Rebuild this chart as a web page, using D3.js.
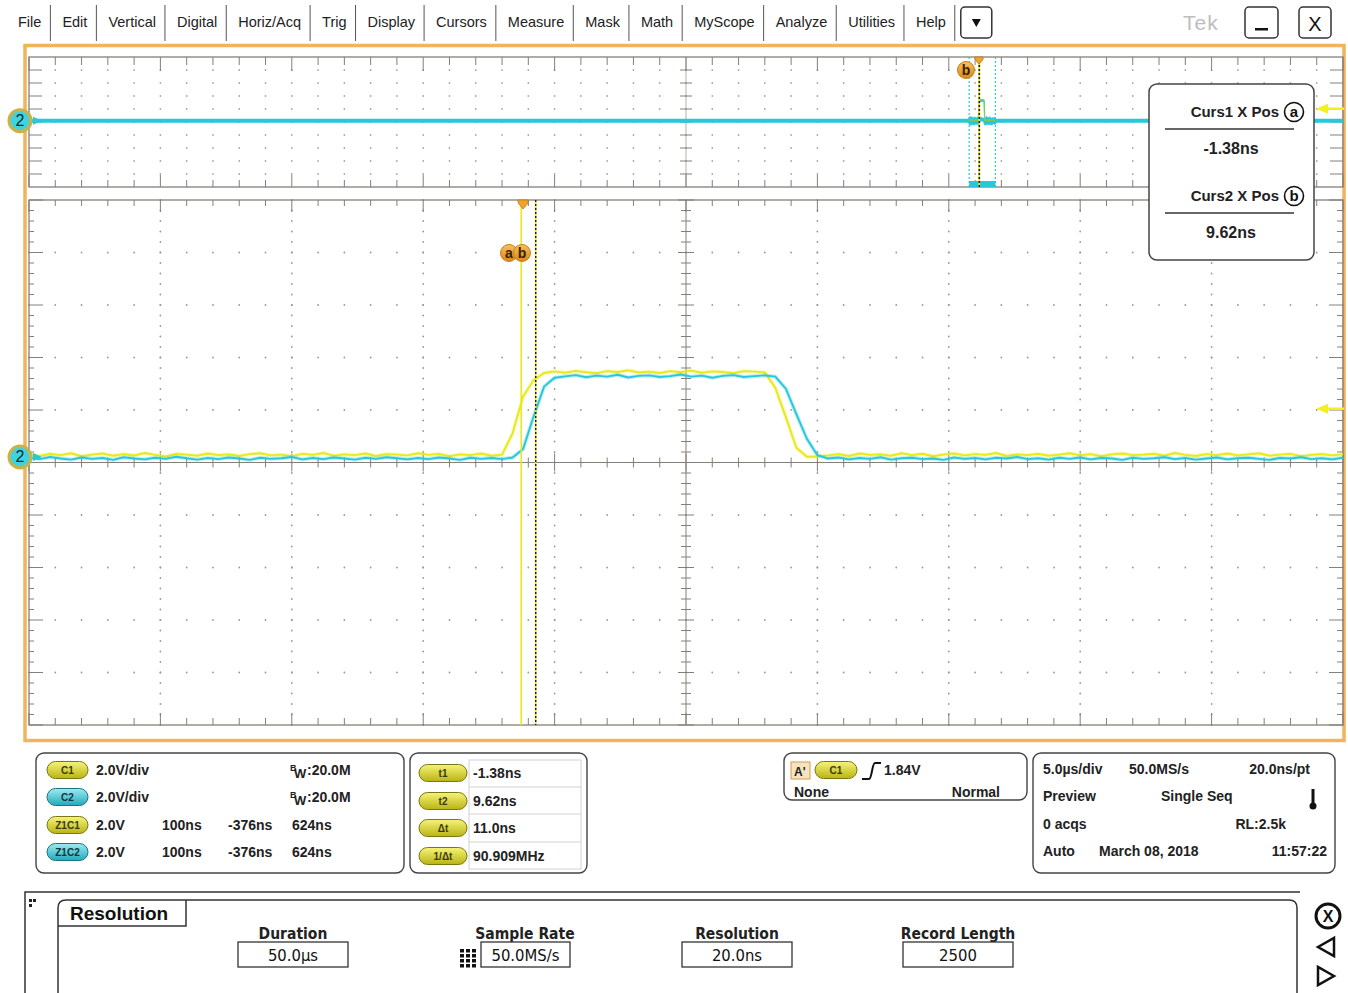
<!DOCTYPE html>
<html><head><meta charset="utf-8">
<script src="https://cdn.jsdelivr.net/npm/d3@7"></script>
<style>
html,body{margin:0;padding:0;background:#fff;}
svg{display:block;font-family:"Liberation Sans",Arial,sans-serif;}
</style></head><body>
<svg id="scope" width="1348" height="993"></svg>
<script>
// ---------- acquisition data ----------
// zoomed record: first sample time and sample spacing (ns)
const SAMPLE_START_NS = -376;
const SAMPLE_STEP_NS = 8;
const ZOOM_NS_PER_DIV = 100;
const RECORD_START_NS = -36150;
const RECORD_NS_PER_DIV = 5000;
const VOLTS_PER_DIV = 2.0;
const TRIGGER_LEVEL_V = 1.84;
const CURSOR_TIMES_NS = [-1.38, 9.62];

// Channel 1 (yellow), volts per sample
const ch1Volts = [
  0.10, 0.04, 0.12, 0.07, 0.14, 0.03, 0.09, 0.13, 0.05, 0.11,
  0.06, 0.15, 0.08, 0.02, 0.12, 0.09, 0.05, 0.13, 0.07, 0.10,
  0.04, 0.11, 0.14, 0.06, 0.09, 0.03, 0.12, 0.08, 0.15, 0.05,
  0.10, 0.07, 0.13, 0.04, 0.11, 0.09, 0.06, 0.14, 0.08, 0.12,
  0.03, 0.10, 0.07, 0.13, 0.05, 0.09,
  0.90, 2.30, 2.93, 3.20,
  3.26, 3.21, 3.28, 3.23, 3.19, 3.27, 3.24, 3.30, 3.22, 3.25,
  3.20, 3.27, 3.23, 3.29, 3.21, 3.26, 3.24, 3.19, 3.27, 3.25, 3.22,
  2.63, 1.52, 0.35, 0.01,
  0.02, 0.06, 0.11, 0.04, 0.13, 0.08, 0.10, 0.05, 0.14, 0.07,
  0.12, 0.03, 0.09, 0.13, 0.06, 0.11, 0.08, 0.15, 0.04, 0.10,
  0.07, 0.12, 0.05, 0.09, 0.14, 0.06, 0.11, 0.03, 0.10, 0.13,
  0.07, 0.09, 0.12, 0.05, 0.15, 0.08, 0.04, 0.11, 0.07, 0.13,
  0.06, 0.10, 0.14, 0.05, 0.09, 0.12, 0.03, 0.08, 0.11, 0.06, 0.10
];

// Channel 2 (cyan), volts per sample
const ch2Volts = [
  -0.03, -0.08, 0.00, -0.06, -0.10, -0.02, -0.07, -0.04, -0.11, -0.01,
  -0.06, -0.09, -0.03, -0.07, 0.01, -0.05, -0.10, -0.04, -0.08, -0.02,
  -0.06, -0.11, -0.03, -0.07, -0.05, 0.00, -0.09, -0.04, -0.08, -0.02,
  -0.06, -0.10, -0.03, -0.07, -0.01, -0.05, -0.09, -0.04, -0.08, -0.02,
  -0.06, -0.11, -0.03, -0.07, -0.04, -0.08, -0.02,
  0.30, 1.54, 2.68, 3.02,
  3.07, 3.12, 3.04, 3.10, 3.06, 3.13, 3.03, 3.09, 3.11, 3.05,
  3.08, 3.14, 3.06, 3.10, 3.02, 3.09, 3.12, 3.05, 3.08, 3.11, 3.06,
  2.60, 1.63, 0.69, 0.07,
  -0.06, -0.02, -0.09, -0.04, -0.07, -0.01, -0.10, -0.05, -0.03, -0.08,
  -0.06, -0.11, -0.02, -0.07, -0.04, -0.09, -0.03, -0.06, 0.00, -0.08,
  -0.05, -0.10, -0.03, -0.07, -0.02, -0.09, -0.04, -0.06, -0.11, -0.03,
  -0.07, -0.05, -0.01, -0.08, -0.04, -0.10, -0.06, -0.02, -0.09, -0.05,
  -0.03, -0.07, -0.11, -0.04, -0.06, -0.01, -0.08, -0.05, -0.09, -0.03
];

// ---------- text content ----------
const menuItems = ["File","Edit","Vertical","Digital","Horiz/Acq","Trig","Display","Cursors","Measure","Mask","Math","MyScope","Analyze","Utilities","Help"];
const channelRows = [
  {badge:"C1", kind:"y", scale:"2.0V/div", bw:"20.0M"},
  {badge:"C2", kind:"c", scale:"2.0V/div", bw:"20.0M"}
];
const zoomRows = [
  {badge:"Z1C1", kind:"y", cols:["2.0V","100ns","-376ns","624ns"]},
  {badge:"Z1C2", kind:"c", cols:["2.0V","100ns","-376ns","624ns"]}
];
const cursorReadouts = [["t1","-1.38ns"],["t2","9.62ns"],["\u0394t","11.0ns"],["1/\u0394t","90.909MHz"]];
const cursorBoxRows = [["Curs1 X Pos","a","-1.38ns"],["Curs2 X Pos","b","9.62ns"]];
const triggerText = {source:"C1", level:"1.84V", coupling:"None", mode:"Normal"};
const horizRows = [
  ["5.0\u00b5s/div","50.0MS/s","20.0ns/pt"],
  ["Preview","Single Seq",""],
  ["0 acqs","","RL:2.5k"],
  ["Auto","March 08, 2018","11:57:22"]
];
const resolutionFields = [["Duration","50.0\u00b5s"],["Sample Rate","50.0MS/s"],["Resolution","20.0ns"],["Record Length","2500"]];

// ---------- setup ----------
const svg = d3.select("#scope");
const GRID = "#857f78";
const YEL = "#e9e81a";
const CYA = "#27c7dc";
const ORANGE = "#f0a52a";

const defs = svg.append("defs");
function grad(id, top, bot){
  const g = defs.append("linearGradient").attr("id", id).attr("x1",0).attr("y1",0).attr("x2",0).attr("y2",1);
  g.append("stop").attr("offset","0%").attr("stop-color", top);
  g.append("stop").attr("offset","100%").attr("stop-color", bot);
}
grad("pillY", "#f6f47a", "#b9b412");
grad("pillC", "#9cecf2", "#22a9bd");
grad("badgeO", "#f8c25a", "#d9861a");

// ---------- menu bar ----------
const menu = svg.append("g").attr("font-size", 14.5).attr("fill", "#222");
let mx = 18;
menuItems.forEach(label => {
  const t = menu.append("text").attr("x", mx).attr("y", 27).text(label);
  const w = t.node().getComputedTextLength();
  const sx = mx + w + 9;
  menu.append("line").attr("x1", sx).attr("x2", sx).attr("y1", 5).attr("y2", 41).attr("stroke", "#555");
  mx = sx + 12;
});
const ddx = mx - 6;
menu.append("rect").attr("x", ddx).attr("y", 7).attr("width", 31).attr("height", 31).attr("rx", 4)
  .attr("fill", "#fff").attr("stroke", "#333").attr("stroke-width", 1.5);
menu.append("path").attr("d", `M${ddx+11},${19} L${ddx+20},${19} L${ddx+15.5},${27} Z`).attr("fill", "#111");
svg.append("text").attr("x", 1183).attr("y", 30).attr("font-size", 21).attr("fill", "#bdbdbd").attr("letter-spacing", 1).text("Tek");
svg.append("rect").attr("x", 1245).attr("y", 7).attr("width", 33).attr("height", 31).attr("rx", 4)
  .attr("fill", "#fff").attr("stroke", "#333").attr("stroke-width", 1.5);
svg.append("rect").attr("x", 1255).attr("y", 28).attr("width", 13).attr("height", 2.5).attr("fill", "#111");
svg.append("rect").attr("x", 1299).attr("y", 7).attr("width", 32).attr("height", 31).attr("rx", 4)
  .attr("fill", "#fff").attr("stroke", "#333").attr("stroke-width", 1.5);
svg.append("text").attr("x", 1315).attr("y", 31).attr("text-anchor", "middle").attr("font-size", 20).attr("fill", "#111").text("X");

// ---------- display frame ----------
svg.append("rect").attr("x", 25).attr("y", 45.5).attr("width", 1319).attr("height", 695)
  .attr("fill", "none").attr("stroke", "#f2b45a").attr("stroke-width", 3.5);

// ---------- scales ----------
const OV = {x0:29, x1:1343, y0:57, y1:187};
const MAIN = {x0:29, x1:1343, y0:200, y1:725};
const CH_OFFSET_DIV = 0.105;
const xMain = d3.scaleLinear().domain([SAMPLE_START_NS, SAMPLE_START_NS + 10*ZOOM_NS_PER_DIV]).range([MAIN.x0, MAIN.x1]);
const xOv = d3.scaleLinear().domain([RECORD_START_NS, RECORD_START_NS + 10*RECORD_NS_PER_DIV]).range([OV.x0, OV.x1]);
const divMain = d3.scaleLinear().domain([-5, 5]).range([MAIN.y1, MAIN.y0]);
const divOv = d3.scaleLinear().domain([-5, 5]).range([OV.y1, OV.y0]);
const yMain = v => divMain(v / VOLTS_PER_DIV + CH_OFFSET_DIV);
const yOv = v => divOv(v / VOLTS_PER_DIV + CH_OFFSET_DIV);

const samples1 = ch1Volts.map((v, i) => ({t: SAMPLE_START_NS + i*SAMPLE_STEP_NS, v}));
const samples2 = ch2Volts.map((v, i) => ({t: SAMPLE_START_NS + i*SAMPLE_STEP_NS, v}));

// ---------- graticule: overview ----------
function graticuleOverview(){
  const g = svg.append("g");
  const { x0, x1, y0, y1 } = OV;
  const minorX = d3.range(0, 51).map(i => x0 + i*(x1-x0)/50);
  const divY = d3.range(0, 11).map(j => divOv(j-5));
  minorX.slice(1, -1).forEach(x => divY.slice(1, -1).forEach(y => {
    g.append("circle").attr("cx", x).attr("cy", y).attr("r", 0.9).attr("fill", "#a8a8a8");
  }));
  g.append("line").attr("x1", 686).attr("x2", 686).attr("y1", y0).attr("y2", y1).attr("stroke", "#b5b0aa");
  divY.slice(1, -1).forEach(y => {
    g.append("line").attr("x1", 680).attr("x2", 692).attr("y1", y).attr("y2", y).attr("stroke", GRID);
    g.append("line").attr("x1", x0).attr("x2", x0+13).attr("y1", y).attr("y2", y).attr("stroke", GRID);
    g.append("line").attr("x1", x1-13).attr("x2", x1).attr("y1", y).attr("y2", y).attr("stroke", GRID);
  });
  minorX.forEach((x, i) => {
    const major = i % 5 === 0;
    g.append("line").attr("x1", x).attr("x2", x).attr("y1", y0).attr("y2", y0 + (major ? 14 : 8)).attr("stroke", GRID);
    g.append("line").attr("x1", x).attr("x2", x).attr("y1", y1).attr("y2", y1 - (major ? 12 : 7)).attr("stroke", GRID);
  });
  g.append("rect").attr("x", x0).attr("y", y0).attr("width", x1-x0).attr("height", y1-y0)
    .attr("fill", "none").attr("stroke", GRID).attr("stroke-width", 1.3);
}

// ---------- graticule: zoom window ----------
function graticuleMain(){
  const g = svg.append("g");
  const { x0, x1, y0, y1 } = MAIN;
  const minorX = d3.range(0, 51).map(i => x0 + i*(x1-x0)/50);
  const minorY = d3.range(0, 51).map(j => divMain(j/5 - 5));
  const yc = divMain(0), xc = (x0 + x1)/2;
  minorX.forEach((x, i) => {
    if (i % 5 !== 0 || i === 0 || i === 50 || i === 25) return;
    minorY.forEach(y => g.append("circle").attr("cx", x).attr("cy", y).attr("r", 0.9).attr("fill", "#9a9a9a"));
  });
  minorY.forEach((y, j) => {
    if (j % 5 !== 0 || j === 0 || j === 50 || j === 25) return;
    minorX.forEach(x => g.append("circle").attr("cx", x).attr("cy", y).attr("r", 0.9).attr("fill", "#9a9a9a"));
  });
  g.append("line").attr("x1", xc).attr("x2", xc).attr("y1", y0).attr("y2", y1).attr("stroke", GRID);
  g.append("line").attr("x1", x0).attr("x2", x1).attr("y1", yc).attr("y2", yc).attr("stroke", GRID);
  minorY.forEach((y, j) => {
    const major = j % 5 === 0;
    const half = major ? 8 : 5;
    g.append("line").attr("x1", xc-half).attr("x2", xc+half).attr("y1", y).attr("y2", y).attr("stroke", GRID);
    g.append("line").attr("x1", x0).attr("x2", x0 + (major ? 14 : 5)).attr("y1", y).attr("y2", y).attr("stroke", GRID);
    g.append("line").attr("x1", x1 - (major ? 14 : 6)).attr("x2", x1).attr("y1", y).attr("y2", y).attr("stroke", GRID);
  });
  minorX.forEach((x, i) => {
    const major = i % 5 === 0;
    const half = major ? 9 : 5;
    g.append("line").attr("x1", x).attr("x2", x).attr("y1", yc-half).attr("y2", yc+half).attr("stroke", GRID);
    g.append("line").attr("x1", x).attr("x2", x).attr("y1", y0).attr("y2", y0 + (major ? 12 : 6)).attr("stroke", GRID);
    g.append("line").attr("x1", x).attr("x2", x).attr("y1", y1).attr("y2", y1 - (major ? 12 : 7)).attr("stroke", GRID);
  });
  g.append("rect").attr("x", x0).attr("y", y0).attr("width", x1-x0).attr("height", y1-y0)
    .attr("fill", "none").attr("stroke", GRID).attr("stroke-width", 1.3);
}
graticuleOverview();
graticuleMain();

defs.append("clipPath").attr("id", "clipOv").append("rect")
  .attr("x", OV.x0).attr("y", OV.y0).attr("width", OV.x1-OV.x0).attr("height", OV.y1-OV.y0);
defs.append("clipPath").attr("id", "clipMain").append("rect")
  .attr("x", MAIN.x0).attr("y", MAIN.y0).attr("width", MAIN.x1-MAIN.x0).attr("height", MAIN.y1-MAIN.y0);

// ---------- overview record ----------
const ovG = svg.append("g").attr("clip-path", "url(#clipOv)");
const ovLine = d3.line().x(d => xOv(d.t)).y(d => yOv(d.v));
const ovPoints = s => [{t: xOv.domain()[0], v: s[0].v}, ...s, {t: xOv.domain()[1], v: s[s.length-1].v}];
// baseline band drawn heavy, the short pulse itself drawn as a thin stroke
const baselineOnly = s => ovPoints(s).filter(d => d.v < 0.5);
ovG.append("path").attr("d", ovLine(baselineOnly(samples2))).attr("fill", "none").attr("stroke", CYA).attr("stroke-width", 4);
ovG.append("path").attr("d", ovLine(samples2)).attr("fill", "none").attr("stroke", "#3cc7a8").attr("stroke-width", 1.2);
ovG.append("path").attr("d", ovLine(samples1)).attr("fill", "none").attr("stroke", "#8ccf55").attr("stroke-width", 1);
// zoom window marker
const zx0 = xOv(xMain.domain()[0]), zx1 = xOv(xMain.domain()[1]);
[zx0, zx1].forEach(x => ovG.append("line").attr("x1", x).attr("x2", x).attr("y1", OV.y0).attr("y2", OV.y1)
  .attr("stroke", CYA).attr("stroke-width", 1.2).attr("stroke-dasharray", "2,2"));
ovG.append("rect").attr("x", zx0).attr("y", OV.y1-6).attr("width", zx1-zx0).attr("height", 6).attr("fill", CYA);
// cursor pair on the overview (they coincide at this scale)
const ovc = xOv(CURSOR_TIMES_NS[1]);
ovG.append("line").attr("x1", ovc).attr("x2", ovc).attr("y1", OV.y0).attr("y2", OV.y1).attr("stroke", YEL).attr("stroke-width", 1.8);
ovG.append("line").attr("x1", ovc).attr("x2", ovc).attr("y1", OV.y0).attr("y2", OV.y1).attr("stroke", "#222").attr("stroke-width", 1.6).attr("stroke-dasharray", "2,2");

// ---------- zoom window traces ----------
const mG = svg.append("g").attr("clip-path", "url(#clipMain)");
const mLine = d3.line().x(d => xMain(d.t)).y(d => yMain(d.v));
[[samples1, YEL], [samples2, CYA]].forEach(([s, c]) => {
  mG.append("path").attr("d", mLine(s)).attr("fill", "none").attr("stroke", c).attr("stroke-width", 4).attr("stroke-opacity", 0.28);
  mG.append("path").attr("d", mLine(s)).attr("fill", "none").attr("stroke", c).attr("stroke-width", 1.9);
});
const cxA = xMain(CURSOR_TIMES_NS[0]), cxB = xMain(CURSOR_TIMES_NS[1]);
mG.append("line").attr("x1", cxA).attr("x2", cxA).attr("y1", MAIN.y0).attr("y2", MAIN.y1).attr("stroke", YEL).attr("stroke-width", 1.6);
mG.append("line").attr("x1", cxB).attr("x2", cxB).attr("y1", MAIN.y0).attr("y2", MAIN.y1).attr("stroke", YEL).attr("stroke-width", 1.5);
mG.append("line").attr("x1", cxB).attr("x2", cxB).attr("y1", MAIN.y0).attr("y2", MAIN.y1).attr("stroke", "#222").attr("stroke-width", 1.5).attr("stroke-dasharray", "2,2");

// trigger position markers
function trigMarker(x, y, s){
  svg.append("path").attr("d", `M${x-5*s},${y} L${x+5*s},${y} L${x+5*s},${y+3*s} L${x},${y+9*s} L${x-5*s},${y+3*s} Z`)
    .attr("fill", ORANGE).attr("stroke", "#c07810").attr("stroke-width", 0.8);
}
trigMarker(xMain(0), MAIN.y0, 1);
trigMarker(xOv(0), OV.y0, 0.8);

// cursor badges
function badge(x, y, letter){
  svg.append("circle").attr("cx", x).attr("cy", y).attr("r", 8.5).attr("fill", "url(#badgeO)").attr("stroke", "#c8801a");
  svg.append("text").attr("x", x).attr("y", y+5).attr("text-anchor", "middle").attr("font-size", 14)
    .attr("font-weight", "bold").attr("fill", "#3a1e00").text(letter);
}
badge(509, 253, "a");
badge(522, 253, "b");
badge(966, 70, "b");

// trigger level arrows (right edge)
function levelArrow(y){
  svg.append("line").attr("x1", 1326).attr("x2", 1344).attr("y1", y).attr("y2", y).attr("stroke", "#f2f020").attr("stroke-width", 2.5);
  svg.append("path").attr("d", `M1316,${y} L1328,${y-5} L1328,${y+5} Z`).attr("fill", "#f2f020");
}
levelArrow(yOv(TRIGGER_LEVEL_V));
levelArrow(yMain(TRIGGER_LEVEL_V));

// channel ground markers (left edge)
function groundMarker(y){
  svg.append("path").attr("d", `M33,${y-4} L42,${y} L33,${y+4} Z`).attr("fill", CYA);
  svg.append("circle").attr("cx", 20).attr("cy", y).attr("r", 11).attr("fill", "#3fd3e2").attr("stroke", "#c9b246").attr("stroke-width", 3);
  svg.append("text").attr("x", 20).attr("y", y+5.5).attr("text-anchor", "middle").attr("font-size", 16).attr("fill", "#0f2a30").text("2");
}
groundMarker(yOv(0));
groundMarker(yMain(0));

// ---------- cursor readout box ----------
const cb = svg.append("g");
cb.append("rect").attr("x", 1149).attr("y", 84).attr("width", 165).attr("height", 176).attr("rx", 8)
  .attr("fill", "#fff").attr("stroke", "#444").attr("stroke-width", 1.5);
cursorBoxRows.forEach(([label, letter, val], i) => {
  const y0 = 112 + i*84;
  cb.append("text").attr("x", 1279).attr("y", y0+5).attr("text-anchor", "end").attr("font-size", 15).attr("font-weight", "bold").attr("fill", "#222").text(label);
  cb.append("circle").attr("cx", 1294).attr("cy", y0).attr("r", 9.5).attr("fill", "#fff").attr("stroke", "#111").attr("stroke-width", 1.6);
  cb.append("text").attr("x", 1294).attr("y", y0+5).attr("text-anchor", "middle").attr("font-size", 15).attr("font-weight", "bold").attr("fill", "#111").text(letter);
  cb.append("line").attr("x1", 1165).attr("x2", 1294).attr("y1", y0+17).attr("y2", y0+17).attr("stroke", "#666").attr("stroke-width", 2);
  cb.append("text").attr("x", 1231).attr("y", y0+42).attr("text-anchor", "middle").attr("font-size", 16).attr("font-weight", "bold").attr("fill", "#222").text(val);
});

// ---------- status panels ----------
function panel(x, y, w, h){
  svg.append("rect").attr("x", x).attr("y", y).attr("width", w).attr("height", h).attr("rx", 8)
    .attr("fill", "#fff").attr("stroke", "#444").attr("stroke-width", 1.4);
}
function pill(x, cy, w, kind, label){
  svg.append("rect").attr("x", x).attr("y", cy-8.5).attr("width", w).attr("height", 17).attr("rx", 8.5)
    .attr("fill", kind === "y" ? "url(#pillY)" : "url(#pillC)")
    .attr("stroke", kind === "y" ? "#7b7712" : "#1b7584").attr("stroke-width", 1);
  svg.append("text").attr("x", x + w/2).attr("y", cy+3.5).attr("text-anchor", "middle").attr("font-size", 10)
    .attr("font-weight", "bold").attr("fill", kind === "y" ? "#3a3a10" : "#12363c").text(label);
}
const bold = (x, y, s, anchor) => svg.append("text").attr("x", x).attr("y", y).attr("font-size", 14)
  .attr("font-weight", "bold").attr("fill", "#222").attr("text-anchor", anchor || "start").text(s);

panel(36, 753, 368, 120);
const rowY = [770, 797, 825, 852];
channelRows.forEach((r, i) => {
  pill(47, rowY[i], 41, r.kind, r.badge);
  bold(96, rowY[i]+5, r.scale);
  svg.append("text").attr("x", 290).attr("y", rowY[i]+1).attr("font-size", 9).attr("font-weight", "bold").attr("fill", "#222").text("B");
  svg.append("text").attr("x", 294).attr("y", rowY[i]+8).attr("font-size", 13).attr("font-weight", "bold").attr("fill", "#222").text("W");
  bold(307, rowY[i]+5, ":" + r.bw);
});
const zoomColX = [96, 162, 228, 292];
zoomRows.forEach((r, i) => {
  pill(47, rowY[i+2], 41, r.kind, r.badge);
  r.cols.forEach((c, k) => bold(zoomColX[k], rowY[i+2]+5, c));
});

panel(410, 753, 177, 120);
const tbl = svg.append("g").attr("stroke", "#d2d2d2").attr("fill", "none");
tbl.append("rect").attr("x", 469).attr("y", 760).attr("width", 112).attr("height", 109);
[787, 814, 842].forEach(y => tbl.append("line").attr("x1", 469).attr("x2", 581).attr("y1", y).attr("y2", y));
cursorReadouts.forEach(([b, v], i) => {
  const cy = [773, 801, 828, 856][i];
  pill(419, cy, 48, "y", b);
  bold(473, cy+5, v);
});

panel(784, 753, 243, 47);
svg.append("rect").attr("x", 791).attr("y", 762).attr("width", 19).attr("height", 17).attr("fill", "#f3e4bf").attr("stroke", "#d59a4c");
svg.append("text").attr("x", 794).attr("y", 776).attr("font-size", 12).attr("font-weight", "bold").attr("fill", "#222").text("A'");
pill(815, 770, 42, "y", triggerText.source);
svg.append("path").attr("d", "M862,779 L869,779 C872,779 872,763 875,763 L881,763").attr("fill", "none").attr("stroke", "#111").attr("stroke-width", 2);
bold(884, 775, triggerText.level);
bold(794, 797, triggerText.coupling);
bold(1000, 797, triggerText.mode, "end");

panel(1033, 753, 302, 120);
horizRows.forEach((r, i) => {
  const y = rowY[i] + 4;
  if (r[0]) bold(1043, y, r[0]);
  if (i === 0) { bold(1129, y, r[1]); bold(1310, y, r[2], "end"); }
  if (i === 1) bold(1161, y, r[1]);
  if (i === 2) bold(1286, y, r[2], "end");
  if (i === 3) { bold(1099, y, r[1]); bold(1327, y, r[2], "end"); }
});
// acquisition thermometer icon
svg.append("rect").attr("x", 1311.5).attr("y", 789).attr("width", 3).attr("height", 14).attr("fill", "#111");
svg.append("circle").attr("cx", 1313).attr("cy", 806).attr("r", 3.5).attr("fill", "#111");

// ---------- resolution control bar ----------
const rg = svg.append("g");
rg.append("path").attr("d", "M25,993 L25,892 L1300,892").attr("fill", "none").attr("stroke", "#333").attr("stroke-width", 1.5);
[[29,899],[33,899],[29,904]].forEach(([x, y]) => rg.append("rect").attr("x", x).attr("y", y).attr("width", 3).attr("height", 3).attr("fill", "#222"));
rg.append("path").attr("d", "M58,993 L58,908 Q58,900 66,900 L1289,900 Q1297,900 1297,908 L1297,993")
  .attr("fill", "none").attr("stroke", "#333").attr("stroke-width", 1.5);
rg.append("path").attr("d", "M58,926 L186,926 L186,900").attr("fill", "none").attr("stroke", "#333").attr("stroke-width", 1.5);
rg.append("text").attr("x", 70).attr("y", 920).attr("font-size", 19).attr("font-weight", "bold").attr("fill", "#111").text("Resolution");
const resCentersX = [293, 525, 737, 958];
const narrow = '"Liberation Sans Narrow","DejaVu Sans Condensed","Liberation Sans",sans-serif';
resolutionFields.forEach(([label, val], i) => {
  const cx = resCentersX[i];
  const bx = i === 1 ? 481 : cx - 55;
  const bw = i === 1 ? 89 : 110;
  rg.append("text").attr("x", cx).attr("y", 939).attr("text-anchor", "middle").attr("font-family", narrow)
    .attr("font-size", 15.5).attr("font-weight", "bold").attr("fill", "#222").text(label);
  rg.append("rect").attr("x", bx).attr("y", 942).attr("width", bw).attr("height", 25).attr("fill", "#fff").attr("stroke", "#333").attr("stroke-width", 1.3);
  rg.append("text").attr("x", bx + bw/2).attr("y", 961).attr("text-anchor", "middle").attr("font-family", narrow)
    .attr("font-size", 16.5).attr("fill", "#111").text(val);
});
// sample-rate grid icon
d3.range(4).forEach(r => d3.range(3).forEach(c => rg.append("rect")
  .attr("x", 460 + c*6).attr("y", 949 + r*5).attr("width", 4).attr("height", 3.5).attr("fill", "#111")));
// close / prev / next
rg.append("circle").attr("cx", 1328).attr("cy", 916).attr("r", 12).attr("fill", "#fff").attr("stroke", "#111").attr("stroke-width", 3);
rg.append("text").attr("x", 1328).attr("y", 922).attr("text-anchor", "middle").attr("font-size", 16).attr("font-weight", "bold").attr("fill", "#111").text("X");
rg.append("path").attr("d", "M1318,947 L1334,938 L1334,956 Z").attr("fill", "#fff").attr("stroke", "#111").attr("stroke-width", 2.5);
rg.append("path").attr("d", "M1334,976 L1318,967 L1318,985 Z").attr("fill", "#fff").attr("stroke", "#111").attr("stroke-width", 2.5);
</script></body></html>
